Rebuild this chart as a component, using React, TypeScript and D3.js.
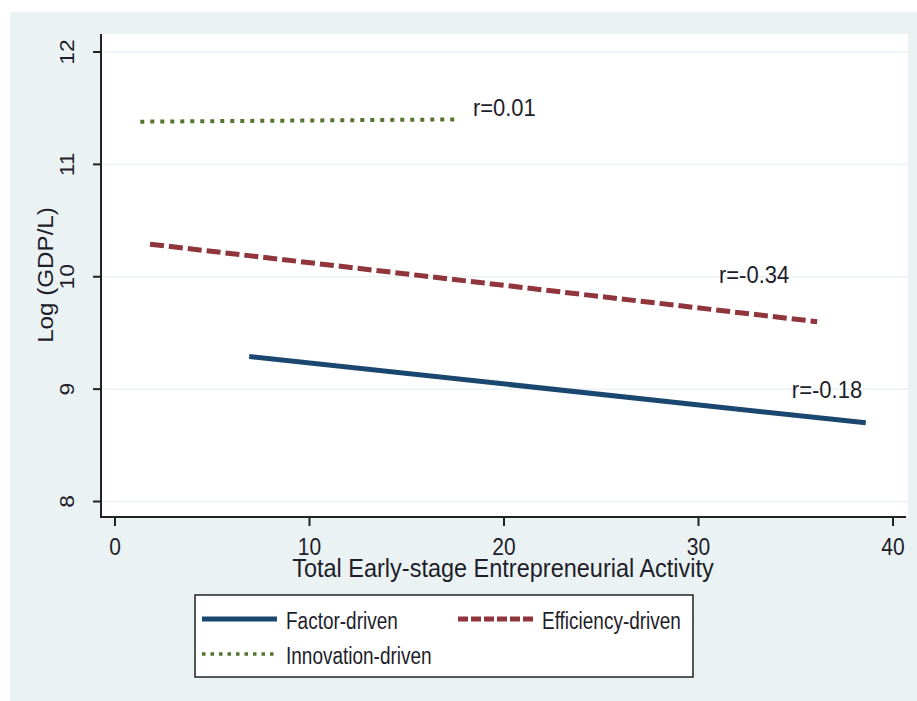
import { useEffect } from "react";
import * as d3 from "d3";

// fitted lines: endpoints
const seriesNames = ["Factor-driven", "Efficiency-driven", "Innovation-driven"];
const seriesColors = ["#1a476f", "#90353b", "#55752f"];
const seriesDash = ["", "14 5", "4 6"];
const lineX = [
  [6.9, 38.6],
  [1.8, 36.1],
  [1.3, 17.6],
];
const lineY = [
  [9.29, 8.7],
  [10.29, 9.6],
  [11.38, 11.4],
];

// correlation annotations (baseline position, data units)
const rLabels = ["r=-0.18", "r=-0.34", "r=0.01"];
const rX = [34.8, 31.05, 18.4];
const rY = [8.92, 9.945, 11.43];

const xTicks = [0, 10, 20, 30, 40];
const yTicks = [8, 9, 10, 11, 12];

const W = 917;
const H = 701;
const font = "'Liberation Sans', Arial, sans-serif";
const textColor = "#1e1e2a";

// text is drawn slightly stretched vertically, like the source image
function T({
  x,
  y,
  size,
  sy,
  rotate,
  anchor,
  children,
}: {
  x: number;
  y: number;
  size: number;
  sy: number;
  rotate?: boolean;
  anchor?: string;
  children: string | number;
}) {
  return (
    <text
      transform={`translate(${x},${y}) scale(1,${sy})${rotate ? " rotate(-90)" : ""}`}
      textAnchor={anchor ?? "start"}
      fontFamily={font}
      fontSize={size}
      fill={textColor}
    >
      {children}
    </text>
  );
}

export default function App() {
  useEffect(() => {
    document.body.style.margin = "0";
  }, []);

  const x = d3.scaleLinear().domain([0, 40]).range([115, 893]);
  const y = d3.scaleLinear().domain([8, 12]).range([501.5, 52]);
  const line = d3
    .line<[number, number]>()
    .x((d) => x(d[0]))
    .y((d) => y(d[1]));

  const plotLeft = 101;
  const plotRight = 908;
  const plotTop = 34;
  const plotBottom = 517;

  // legend entries: [sample x, row y]
  const legendPos = [
    [202, 619],
    [458, 619],
    [202, 654],
  ];

  return (
    <svg width={W} height={H} style={{ display: "block" }}>
      <rect x={10} y={12} width={W - 10} height={H - 12} fill="#eaf2f3" />
      <rect
        x={plotLeft}
        y={plotTop}
        width={plotRight - plotLeft}
        height={plotBottom - plotTop}
        fill="#ffffff"
      />
      {/* gridlines */}
      {yTicks.map((t) => (
        <line
          key={"g" + t}
          x1={plotLeft}
          x2={plotRight}
          y1={y(t)}
          y2={y(t)}
          stroke="#eaf2f3"
          strokeWidth={1.5}
        />
      ))}
      {/* axes */}
      <line x1={plotLeft} x2={plotLeft} y1={plotTop} y2={plotBottom + 1} stroke="#222" strokeWidth={2} />
      <line x1={plotLeft} x2={plotRight - 2} y1={plotBottom} y2={plotBottom} stroke="#222" strokeWidth={2} />
      {yTicks.map((t) => (
        <g key={"y" + t}>
          <line x1={plotLeft - 8} x2={plotLeft} y1={y(t)} y2={y(t)} stroke="#222" strokeWidth={2} />
          <T x={74} y={y(t)} size={19.5} sy={1.17} rotate anchor="middle">
            {t}
          </T>
        </g>
      ))}
      {xTicks.map((t) => (
        <g key={"x" + t}>
          <line x1={x(t)} x2={x(t)} y1={plotBottom} y2={plotBottom + 9} stroke="#222" strokeWidth={2} />
          <T x={x(t)} y={555} size={21} sy={1.15} anchor="middle">
            {t}
          </T>
        </g>
      ))}
      <T x={503} y={577} size={23.5} sy={1.1} anchor="middle">
        Total Early-stage Entrepreneurial Activity
      </T>
      <T x={53} y={275} size={22} sy={1.1} rotate anchor="middle">
        Log (GDP/L)
      </T>

      {/* fitted lines */}
      {seriesNames.map((name, i) => (
        <path
          key={name}
          d={line(lineX[i].map((v, j) => [v, lineY[i][j]] as [number, number])) ?? ""}
          fill="none"
          stroke={seriesColors[i]}
          strokeWidth={i === 2 ? 4 : 5}
          strokeDasharray={seriesDash[i] || undefined}
        />
      ))}
      {rLabels.map((lab, i) => (
        <T key={lab} x={x(rX[i])} y={y(rY[i])} size={22} sy={1.1}>
          {lab}
        </T>
      ))}

      {/* legend */}
      <rect x={195} y={595} width={498} height={82} fill="#ffffff" stroke="#222" strokeWidth={1.5} />
      {seriesNames.map((name, i) => (
        <g key={"l" + name}>
          <line
            x1={legendPos[i][0]}
            x2={legendPos[i][0] + 75}
            y1={legendPos[i][1]}
            y2={legendPos[i][1]}
            stroke={seriesColors[i]}
            strokeWidth={i === 2 ? 3.5 : 5}
            strokeDasharray={i === 1 ? "10 3" : i === 2 ? "3.5 5" : undefined}
          />
          <T x={legendPos[i][0] + 84} y={legendPos[i][1] + 9.5} size={19} sy={1.3}>
            {name}
          </T>
        </g>
      ))}
    </svg>
  );
}
